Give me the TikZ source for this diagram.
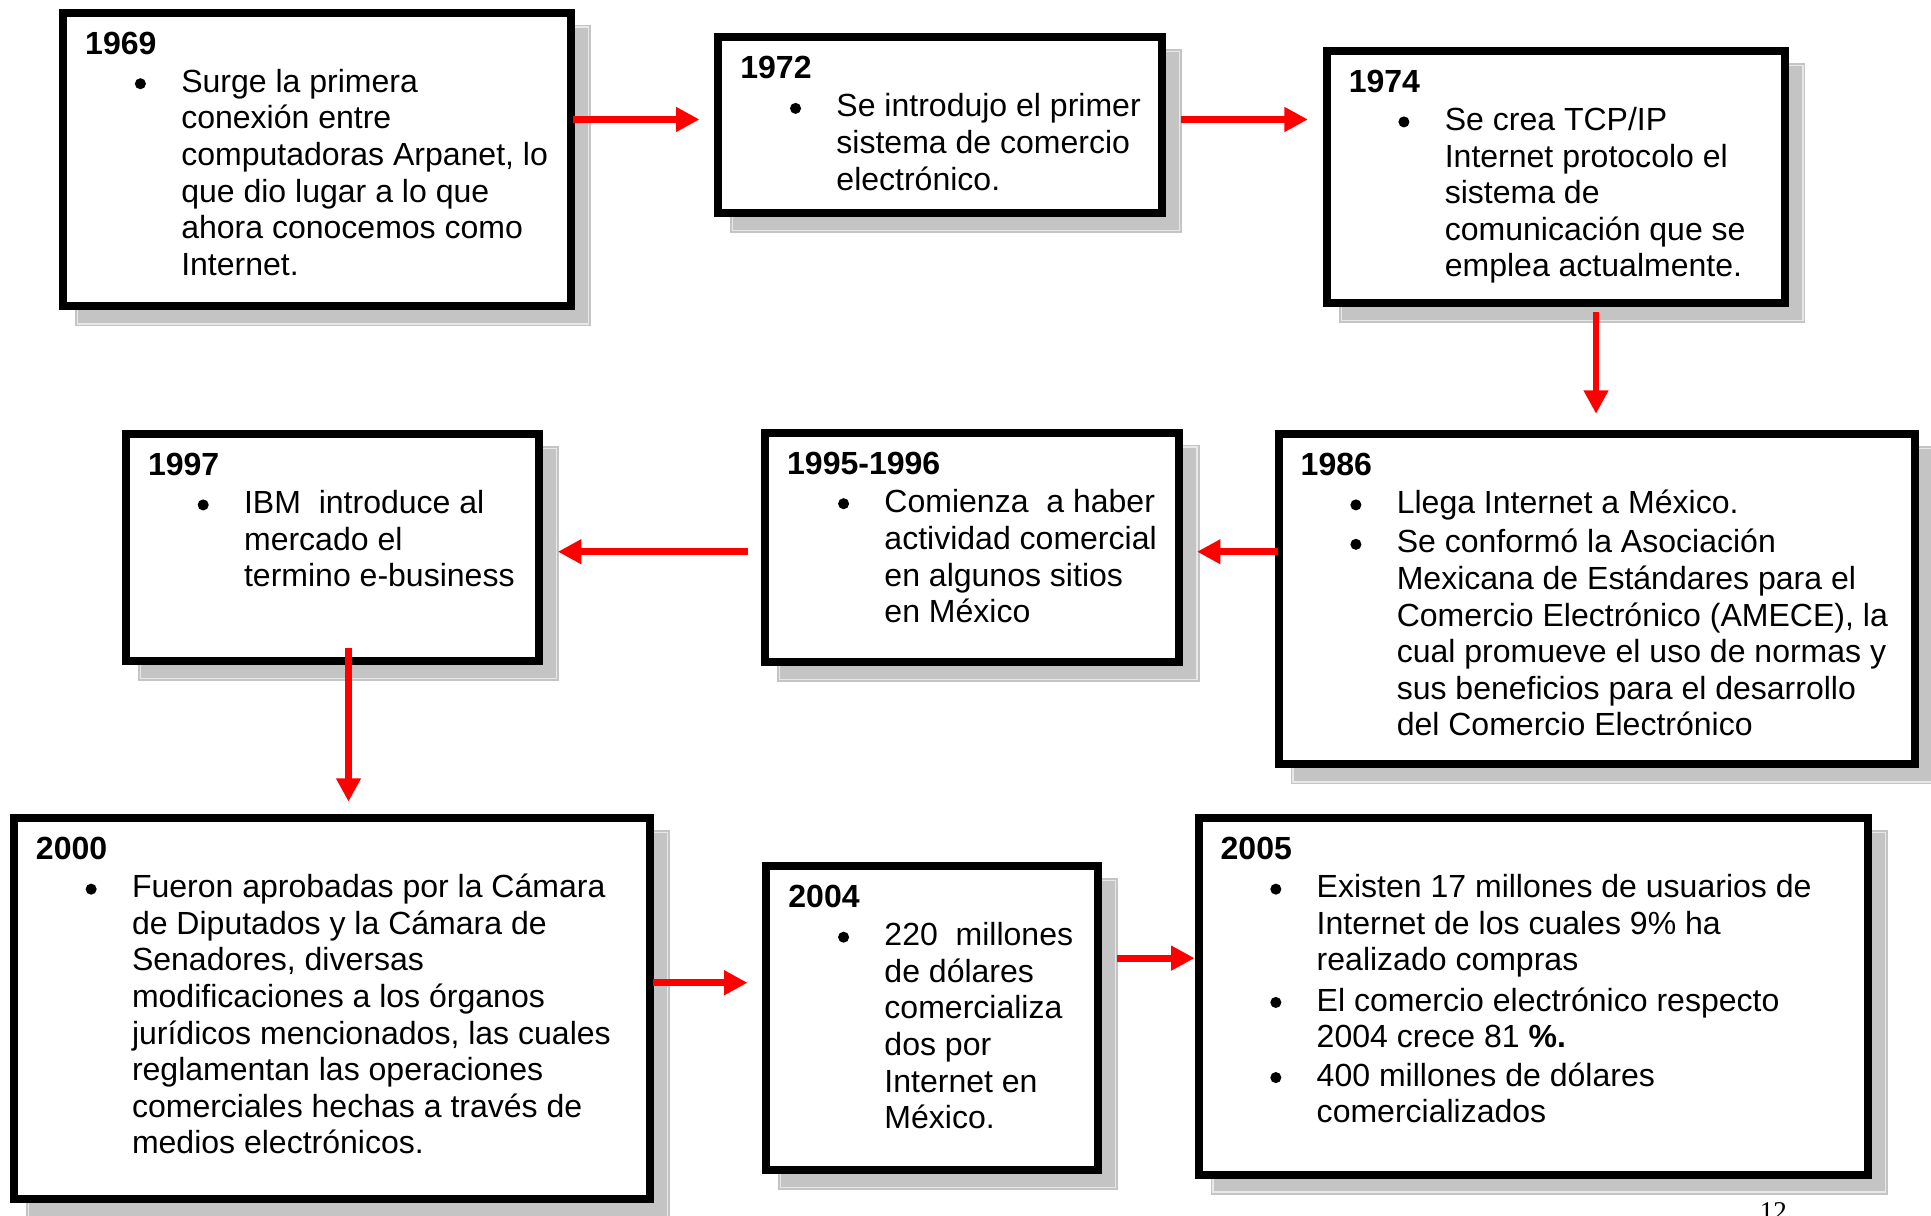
\documentclass[tikz,border=0pt]{standalone}
\usepackage{fontspec}
\setmainfont{Liberation Sans}
\newfontfamily\pgnumfont{Liberation Serif}
\usetikzlibrary{arrows.meta,backgrounds,calc}
\definecolor{shadowgray}{RGB}{196,196,196}
\definecolor{shadowedge}{RGB}{232,232,232}
\newcommand\bodyfont{\fontsize{26pt}{29.7pt}\selectfont}
\newcommand\tllines[1]{\begin{tabular}[t]{@{}l@{}}#1\end{tabular}}
\tikzset{
  tbox/.style={draw=black, line width=6.5pt, fill=white, inner sep=0pt, anchor=north west},
  yr/.style={anchor=base west, inner sep=0pt, font=\bodyfont\bfseries},
  bul/.style={circle, fill=black, draw=none, inner sep=0pt, minimum size=9pt},
  txt/.style={anchor=base west, inner sep=0pt},
  arr/.style={draw=red, line width=5.5pt, -{Triangle[length=19pt,width=19pt]}},
}
% name, x1, y1, x2, y2 (outer edges)
\newcommand\tlbox[5]{%
  \node[tbox, minimum width={#4-#2-6.5}, minimum height={#5-#3-6.5}] (#1) at (#2,#3) {};
  \begin{pgfonlayer}{background}
    \fill[shadowgray] ($(#1.north west)+(13,13)$) rectangle ($(#1.south east)+(13,13)$);
    \draw[shadowedge, line width=1pt] ($(#1.north west)+(15,15)$) rectangle ($(#1.south east)+(11,11)$);
  \end{pgfonlayer}
  \node[yr] (#1y) at ($(#1.north west)+(21,37)$) {\csname yr#1\endcsname};
}
\begin{document}
\def\yrba{1969}\def\yrbb{1972}\def\yrbc{1974}\def\yrbd{1986}\def\yrbe{1995-1996}
\def\yrbf{1997}\def\yrbg{2000}\def\yrbh{2004}\def\yrbi{2005}
\begin{tikzpicture}[x=1pt, y=-1pt, font=\bodyfont]
\useasboundingbox (0,0) rectangle (1568,987);
\clip (0,0) rectangle (1568,987);

\tlbox{ba}{48}{7}{467}{252}
\tlbox{bb}{580}{27}{947}{176}
\tlbox{bc}{1074}{38}{1453}{249}
\tlbox{bd}{1035}{349}{1558}{624}
\tlbox{be}{618}{348}{961}{541}
\tlbox{bf}{99}{349}{441}{540}
\tlbox{bg}{8}{661}{531}{977}
\tlbox{bh}{619}{700}{895}{953}
\tlbox{bi}{970}{661}{1520}{957}

% 1969
\node[bul] (da1) at ($(ba.north west)+(66,61)$) {};
\node[txt] (ta1) at ($(ba.north west)+(99,68)$) {\tllines{Surge la primera\\conexión entre\\computadoras Arpanet, lo\\que dio lugar a lo que\\ahora conocemos como\\Internet.}};
% 1972
\node[bul] (db1) at ($(bb.north west)+(66,61)$) {};
\node[txt] (tb1) at ($(bb.north west)+(99,68)$) {\tllines{Se introdujo el primer\\sistema de comercio\\electrónico.}};
% 1974
\node[bul] (dc1) at ($(bc.north west)+(66,61)$) {};
\node[txt] (tc1) at ($(bc.north west)+(99,68)$) {\tllines{Se crea TCP/IP\\Internet protocolo el\\sistema de\\comunicación que se\\emplea actualmente.}};
% 1986
\node[bul] (dd1) at ($(bd.north west)+(66,61)$) {};
\node[txt] (td1) at ($(bd.north west)+(99,68)$) {Llega Internet a México.};
\node[bul] (dd2) at ($(bd.north west)+(66,93)$) {};
\node[txt] (td2) at ($(bd.north west)+(99,100)$) {\tllines{Se conformó la Asociación\\Mexicana de Estándares para el\\Comercio Electrónico (AMECE), la\\cual promueve el uso de normas y\\sus beneficios para el desarrollo\\del Comercio Electrónico}};
% 1995-1996
\node[bul] (de1) at ($(be.north west)+(67,61)$) {};
\node[txt] (te1) at ($(be.north west)+(100,68.5)$) {\tllines{Comienza\ \ a haber\\actividad comercial\\en algunos sitios\\en México}};
% 1997
\node[bul] (df1) at ($(bf.north west)+(66,61)$) {};
\node[txt] (tf1) at ($(bf.north west)+(99,68)$) {\tllines{IBM\ \ introduce al\\mercado el\\termino e-business}};
% 2000
\node[bul] (dg1) at ($(bg.north west)+(66,61)$) {};
\node[txt] (tg1) at ($(bg.north west)+(99,68)$) {\tllines{Fueron aprobadas por la Cámara\\de Diputados y la Cámara de\\Senadores, diversas\\modificaciones a los órganos\\jurídicos mencionados, las cuales\\reglamentan las operaciones\\comerciales hechas a través de\\medios electrónicos.}};
% 2004
\node[bul] (dh1) at ($(bh.north west)+(66,61)$) {};
\node[txt] (th1) at ($(bh.north west)+(99,68)$) {\tllines{220\ \ millones\\de dólares\\comercializa\\dos por\\Internet en\\México.}};
% 2005
\node[bul] (di1) at ($(bi.north west)+(66,61)$) {};
\node[txt] (ti1) at ($(bi.north west)+(99,68)$) {\tllines{Existen 17 millones de usuarios de\\Internet de los cuales 9\% ha\\realizado compras}};
\node[bul] (di2) at ($(bi.north west)+(66,153)$) {};
\node[txt] (ti2) at ($(bi.north west)+(99,160)$) {\tllines{El comercio electrónico respecto\\2004 crece 81 \textbf{\%.}}};
\node[bul] (di3) at ($(bi.north west)+(66,214)$) {};
\node[txt] (ti3) at ($(bi.north west)+(99,221)$) {\tllines{400 millones de dólares\\comercializados}};

% page number
\node[anchor=north, inner sep=0pt, font=\pgnumfont\fontsize{22pt}{26pt}\selectfont] (pg) at (1440,976) {12};

% connectors
\draw[arr, shorten <=-2pt, shorten >=12pt] (ba.east |- 0,97) -- (bb.west |- 0,97);
\draw[arr, shorten <=12pt, shorten >=12pt] (bb.east |- 0,97) -- (bc.west |- 0,97);
\draw[arr, shorten <=4pt, shorten >=13pt] (bc.south -| 1296,0) -- (bd.north -| 1296,0);
\draw[arr, shorten <=-3pt, shorten >=11pt] (bd.west |- 0,448) -- (be.east |- 0,448);
\draw[arr, shorten <=11pt, shorten >=12pt] (be.west |- 0,448) -- (bf.east |- 0,448);
\draw[arr, shorten <=-14pt, shorten >=10pt] (bf.south -| 283,0) -- (bg.north -| 283,0);
\draw[arr, shorten <=-1pt, shorten >=12pt] (bg.east |- 0,798) -- (bh.west |- 0,798);
\draw[arr, shorten <=12pt, shorten >=0pt] (bh.east |- 0,778) -- (bi.west |- 0,778);
\end{tikzpicture}
\end{document}
